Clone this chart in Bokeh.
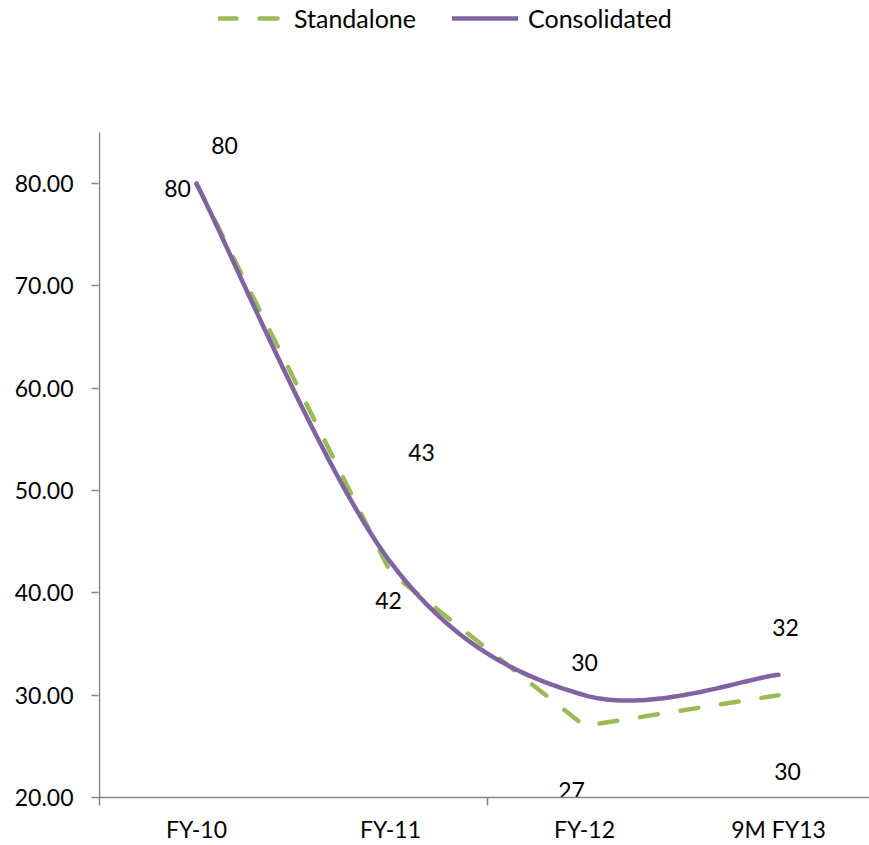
import numpy as np
from bokeh.plotting import figure
from bokeh.models import (Range1d, FixedTicker, PrintfTickFormatter, Legend,
                          LegendItem, ColumnDataSource)
from bokeh.core.properties import value
from bokeh.embed import file_html
from bokeh.resources import INLINE

# ---------------- data ----------------
categories = ["FY-10", "FY-11", "FY-12", "9M FY13"]
standalone = [80, 42, 27, 30]
consolidated = [80, 43, 30, 32]
y_ticks = [20, 30, 40, 50, 60, 70, 80]
Y_MIN, Y_AXIS_MAX = 20, 85

# ---------------- styles ----------------
# data-label offsets in screen pixels (Excel-like label placement)
std_label_dx = [28, -2, -13, 9]
std_label_dy = [-38, 28, 65, 76]
con_label_dx = [-19, 31, 0, 7]
con_label_dy = [5, -110, -33, -47]

GREEN = "#9BBB59"
PURPLE = "#8064A2"
AXIS = "#868686"
FONT = "Lato"
FS = "23px"

W, H = 869, 845
LEFT, BOTTOM = 98, 48
CAT_W = 194             # px per category
PX_PER_UNIT = 665 / 65  # px per y unit
FRAME_H = H - BOTTOM

xs = [i + 0.5 for i in range(len(categories))]


def smooth(x, y, f=1 / 6, n=60):
    """Excel-style smoothed line (Catmull-Rom Bezier spline)."""
    pts = np.column_stack([x, y]).astype(float)
    N = len(pts)
    out = []
    for i in range(N - 1):
        p0 = pts[max(i - 1, 0)]
        p1 = pts[i]
        p2 = pts[i + 1]
        p3 = pts[min(i + 2, N - 1)]
        c1 = p1 + (p2 - p0) * f
        c2 = p2 - (p3 - p1) * f
        t = np.linspace(0, 1, n)[:, None]
        if i > 0:
            t = t[1:]
        b = ((1 - t) ** 3) * p1 + 3 * t * (1 - t) ** 2 * c1 + 3 * t ** 2 * (1 - t) * c2 + t ** 3 * p2
        out.append(b)
    b = np.vstack(out)
    return b[:, 0], b[:, 1]


p = figure(width=W, height=H,
           x_range=Range1d(-1 / CAT_W, (W - LEFT - 1) / CAT_W),
           y_range=Range1d(Y_MIN, Y_MIN + FRAME_H / PX_PER_UNIT),
           output_backend="svg", toolbar_location=None,
           min_border_left=LEFT, min_border_right=0,
           min_border_top=0, min_border_bottom=BOTTOM)
p.xgrid.visible = False
p.ygrid.visible = False
p.outline_line_color = None
p.background_fill_color = "white"
p.border_fill_color = "white"

# x axis
xa = p.xaxis[0]
xa.ticker = FixedTicker(ticks=xs, minor_ticks=[0, 2, 4])
xa.major_label_overrides = {x: c for x, c in zip(xs, categories)}
xa.major_tick_in = 0
xa.major_tick_out = 0
xa.major_tick_line_color = None
xa.minor_tick_in = 0
xa.minor_tick_out = 8
xa.minor_tick_line_color = AXIS
xa.minor_tick_line_width = 1.5
xa.axis_line_color = AXIS
xa.axis_line_width = 1.5
xa.major_label_text_font = FONT
xa.major_label_text_font_size = FS
xa.major_label_text_color = "black"
xa.major_label_standoff = 9

# y axis (its line only spans the value range, drawn as a segment)
ya = p.yaxis[0]
ya.ticker = FixedTicker(ticks=y_ticks, minor_ticks=[])
ya.formatter = PrintfTickFormatter(format="%.2f")
ya.major_tick_in = 0
ya.major_tick_out = 7
ya.major_tick_line_color = AXIS
ya.major_tick_line_width = 1.5
ya.minor_tick_line_color = None
ya.axis_line_color = None
ya.major_label_text_font = FONT
ya.major_label_text_font_size = FS
ya.major_label_text_color = "black"
ya.major_label_standoff = 18
p.segment(x0=[0], y0=[Y_MIN], x1=[0], y1=[Y_AXIS_MAX],
          line_color=AXIS, line_width=1.5)

# lines
r_std = p.line(xs, standalone, line_color=GREEN, line_width=4.5,
               line_dash="18 23", line_cap="round")
sx, sy = smooth(xs, consolidated)
r_con = p.line(sx, sy, line_color=PURPLE, line_width=4.5, line_cap="round",
               line_join="round")

# data labels
std_src = ColumnDataSource(dict(x=xs, y=standalone,
                                text=[str(int(v)) for v in standalone],
                                dx=std_label_dx, dy=std_label_dy))
con_src = ColumnDataSource(dict(x=xs, y=consolidated,
                                text=[str(int(v)) for v in consolidated],
                                dx=con_label_dx, dy=con_label_dy))
for src in (std_src, con_src):
    p.text(x="x", y="y", text="text", x_offset="dx", y_offset="dy", source=src,
           text_font=value(FONT), text_font_size=FS, text_color="black",
           text_align="center", text_baseline="middle")

# legend (location = bottom-left corner, measured from the frame's bottom-left)
legend = Legend(items=[LegendItem(label="Standalone", renderers=[r_std]),
                       LegendItem(label="Consolidated", renderers=[r_con])],
                orientation="horizontal", location=(218 - LEFT, FRAME_H - 33),
                padding=0, margin=0, spacing=36,
                glyph_width=66, glyph_height=30, label_height=30,
                label_standoff=10,
                label_text_font=FONT, label_text_font_size="25px",
                label_text_color="black",
                border_line_alpha=0, background_fill_alpha=0)
p.add_layout(legend, "center")

open("out.html", "w").write(file_html(p, INLINE))
